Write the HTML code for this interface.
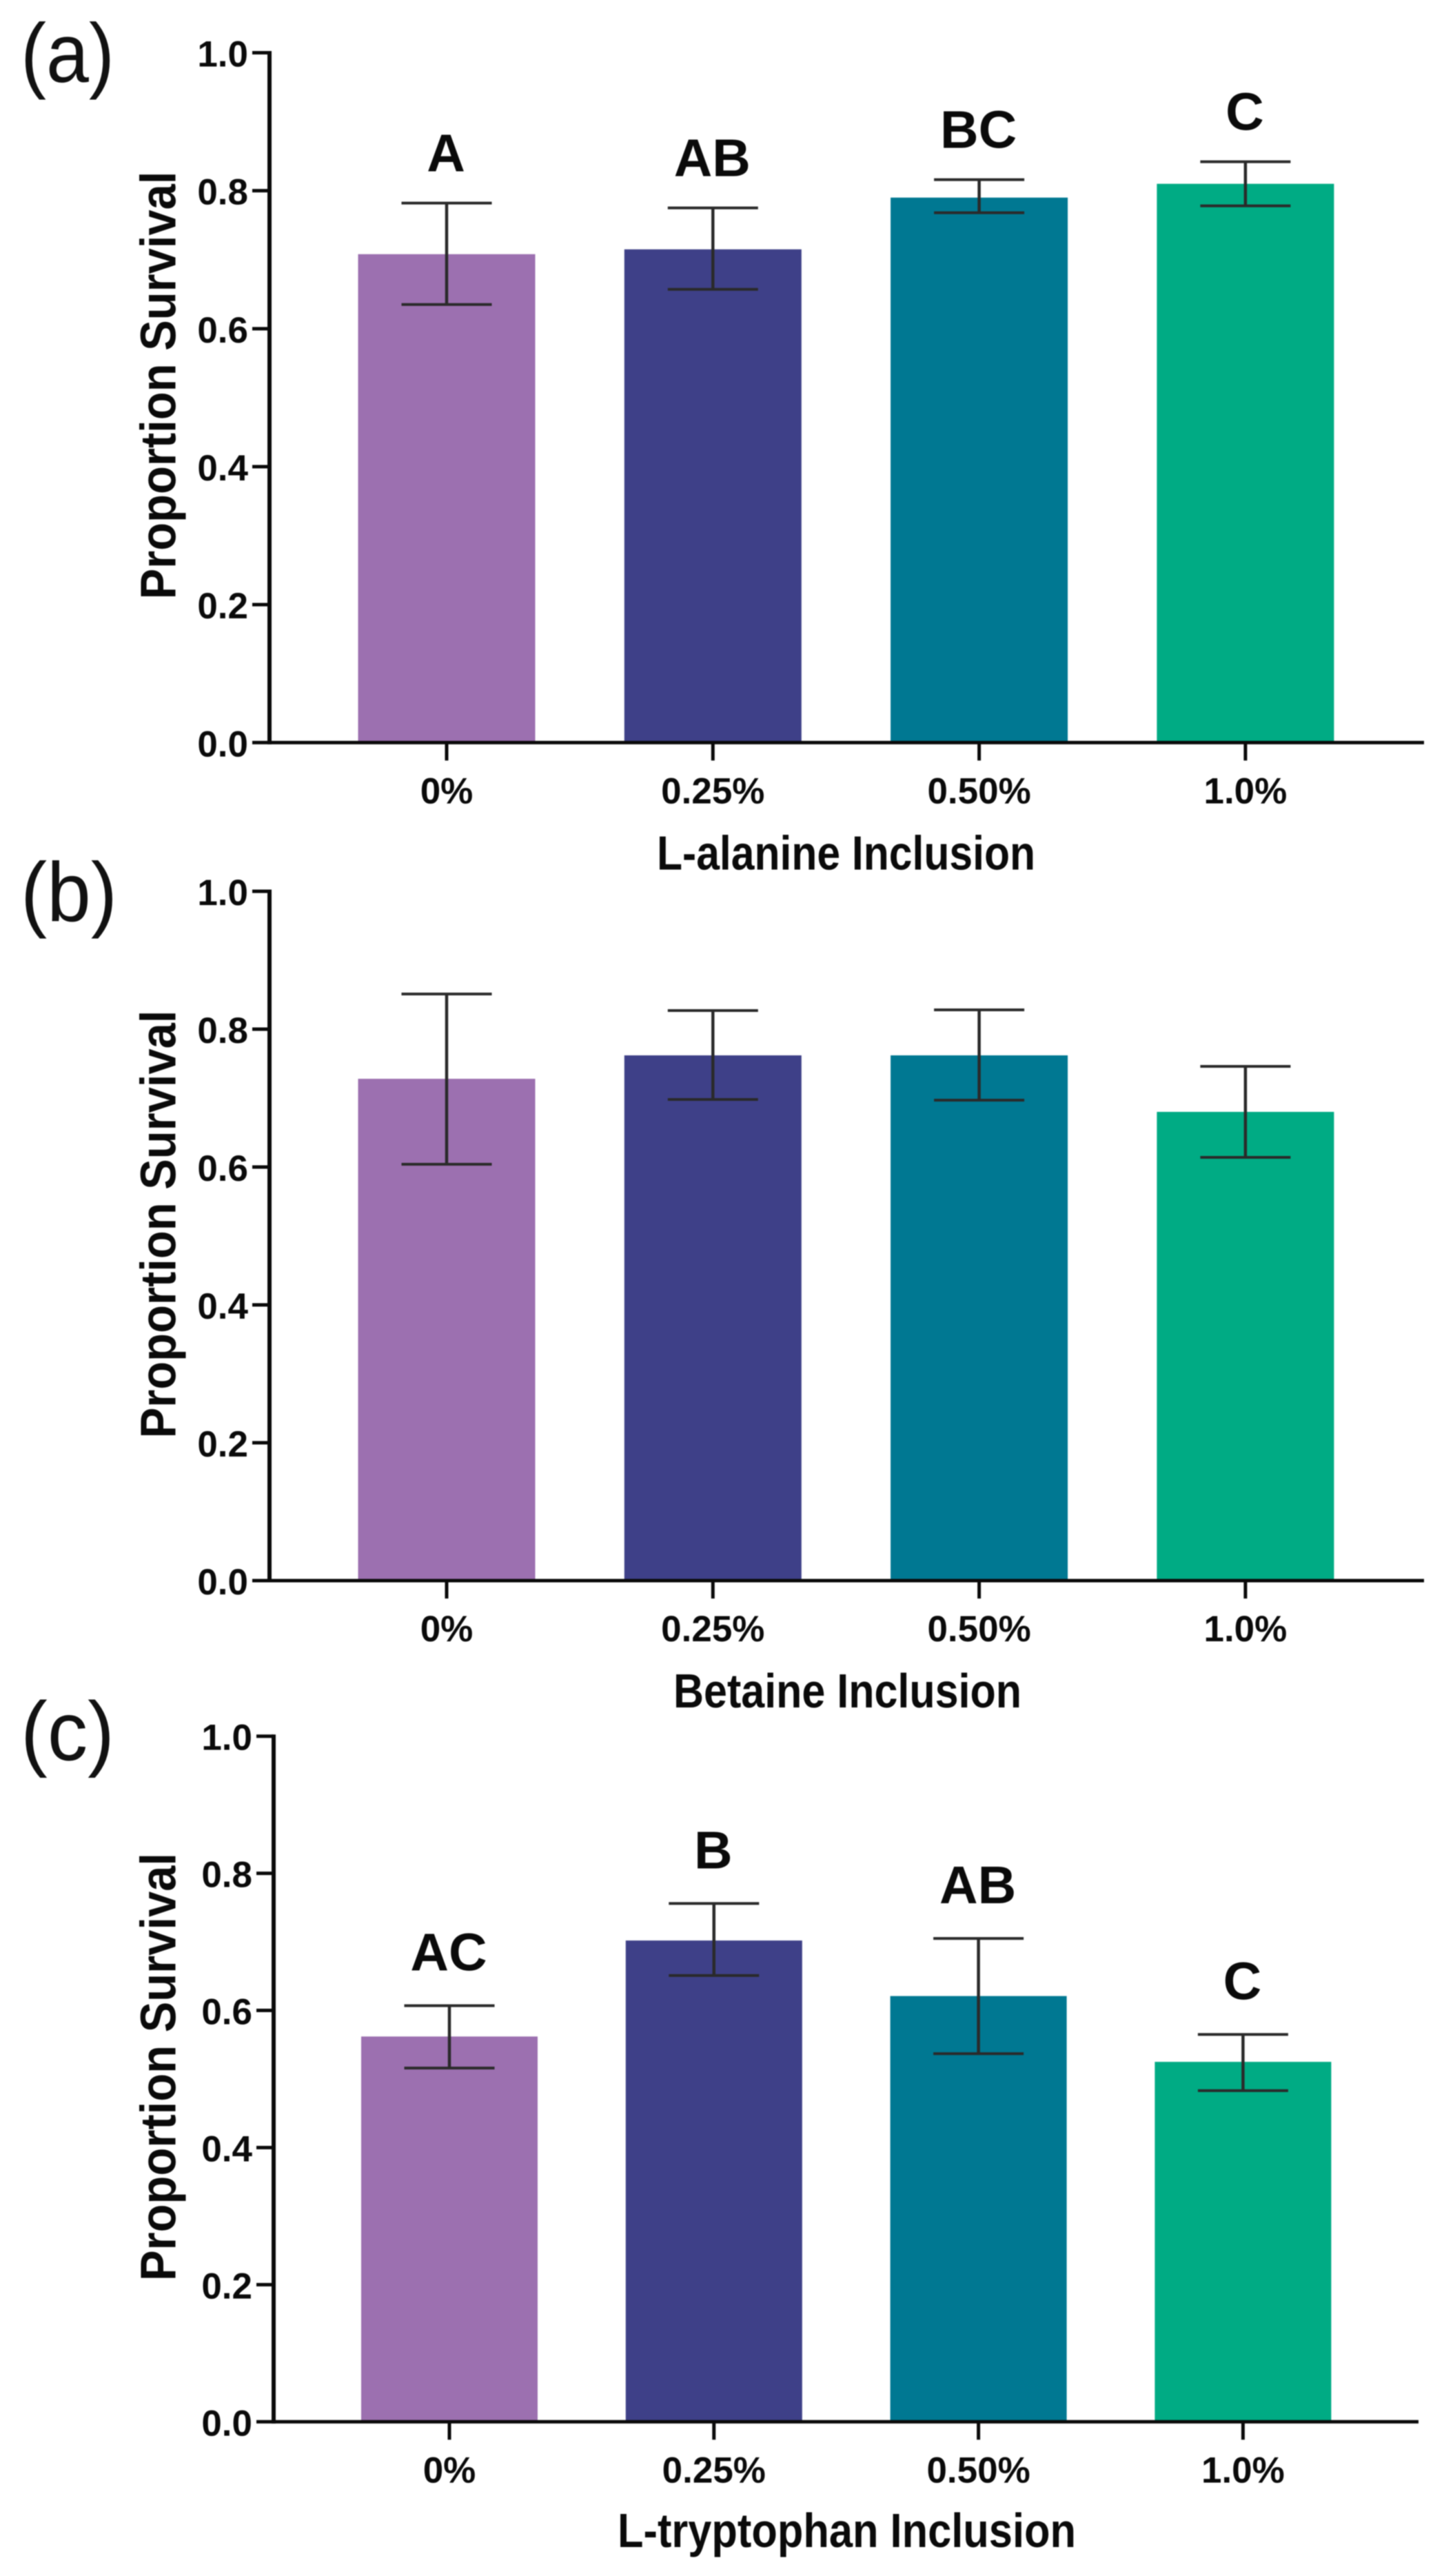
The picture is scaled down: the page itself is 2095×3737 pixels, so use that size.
<!DOCTYPE html>
<html>
<head>
<meta charset="utf-8">
<title>Proportion survival by amino acid inclusion</title>
<style>
html,body{margin:0;padding:0;background:#fff;width:2095px;height:3737px;overflow:hidden}
svg{display:block;filter:blur(0.7px)}
.panel-tag{font-family:"Liberation Sans",sans-serif;font-size:122px;fill:#111}
.axis-title{font-family:"Liberation Sans",sans-serif;font-weight:bold;fill:#0a0a0a}
.tick{font-family:"Liberation Sans",sans-serif;font-weight:bold;font-size:53px;fill:#0a0a0a}
.sig{font-family:"Liberation Sans",sans-serif;font-weight:bold;font-size:77px;fill:#0a0a0a;text-anchor:middle}
</style>
</head>
<body>
<svg id="fig" xmlns="http://www.w3.org/2000/svg" width="2095" height="3737" viewBox="0 0 2095 3737">
  <rect width="2095" height="3737" fill="#ffffff"/>

  <text class="panel-tag" x="30" y="119" textLength="136" lengthAdjust="spacingAndGlyphs">(a)</text>
  <text class="panel-tag" x="30" y="1336" textLength="140" lengthAdjust="spacingAndGlyphs">(b)</text>
  <text class="panel-tag" x="30" y="2553.5" textLength="136" lengthAdjust="spacingAndGlyphs">(c)</text>

  <text class="axis-title" font-size="72" text-anchor="middle" transform="translate(254.5,559) rotate(-90)" textLength="621" lengthAdjust="spacingAndGlyphs">Proportion Survival</text>
  <text class="axis-title" font-size="72" text-anchor="middle" transform="translate(254.5,1776) rotate(-90)" textLength="621" lengthAdjust="spacingAndGlyphs">Proportion Survival</text>
  <text class="axis-title" font-size="72" text-anchor="middle" transform="translate(254.5,2998.5) rotate(-90)" textLength="621" lengthAdjust="spacingAndGlyphs">Proportion Survival</text>

  <text class="axis-title" font-size="70" x="953" y="1261.5" textLength="549" lengthAdjust="spacingAndGlyphs">L-alanine Inclusion</text>
  <text class="axis-title" font-size="70" x="977" y="2477" textLength="505" lengthAdjust="spacingAndGlyphs">Betaine Inclusion</text>
  <text class="axis-title" font-size="70" x="896" y="3695" textLength="665" lengthAdjust="spacingAndGlyphs">L-tryptophan Inclusion</text>

  <g id="plots"></g>
</svg>
<script>
// Chart data
const categories = ['0%', '0.25%', '0.50%', '1.0%'];
const yTickValues = [0, 0.2, 0.4, 0.6, 0.8, 1.0];
const yTickLabels = ['0.0', '0.2', '0.4', '0.6', '0.8', '1.0'];

const alanineMeans = [0.708, 0.715, 0.79, 0.81];
const alanineUpper = [0.782, 0.775, 0.816, 0.842];
const alanineLower = [0.635, 0.657, 0.768, 0.778];
const alanineLetters = ['A', 'AB', 'BC', 'C'];

const betaineMeans = [0.728, 0.762, 0.762, 0.68];
const betaineUpper = [0.851, 0.827, 0.828, 0.746];
const betaineLower = [0.604, 0.698, 0.697, 0.614];
const betaineLetters = ['', '', '', ''];

const tryptophanMeans = [0.562, 0.702, 0.621, 0.525];
const tryptophanUpper = [0.607, 0.756, 0.705, 0.565];
const tryptophanLower = [0.516, 0.651, 0.537, 0.483];
const tryptophanLetters = ['AC', 'B', 'AB', 'C'];

const barColors = ['#9c70b0', '#3e4088', '#007892', '#00ab84'];

const NS = 'http://www.w3.org/2000/svg';
const root = document.getElementById('plots');

function mk(parent, tag, attrs, text) {
  const el = document.createElementNS(NS, tag);
  for (const k in attrs) el.setAttribute(k, attrs[k]);
  if (text !== undefined) el.textContent = text;
  parent.appendChild(el);
  return el;
}

function drawPanel(id, geom, means, upper, lower, letters) {
  const yScale = v => geom.zero - v * (geom.zero - geom.top);
  const xScale = i => geom.x0 + geom.step * i;
  const g = mk(root, 'g', {});
  
  

  means.forEach((m, i) => {
    const cx = xScale(i);
    const bar = mk(g, 'rect', {
      x: cx - geom.barW / 2, y: yScale(m),
      width: geom.barW, height: geom.zero - yScale(m),
      fill: barColors[i]
    });
    
    

    const stem = mk(g, 'line', {
      x1: cx, x2: cx, y1: yScale(upper[i]), y2: yScale(lower[i]),
      stroke: '#2a2a2a', 'stroke-width': 4.5
    });
    
    

    const capTop = mk(g, 'line', {
      x1: cx - geom.cap, x2: cx + geom.cap, y1: yScale(upper[i]), y2: yScale(upper[i]),
      stroke: '#2a2a2a', 'stroke-width': 4
    });
    
    

    const capBottom = mk(g, 'line', {
      x1: cx - geom.cap, x2: cx + geom.cap, y1: yScale(lower[i]), y2: yScale(lower[i]),
      stroke: '#2a2a2a', 'stroke-width': 4
    });
    
    

    if (letters[i]) {
      const sig = mk(g, 'text', {
        class: 'sig', x: cx - 1, y: yScale(upper[i]) - geom.sigGap
      }, letters[i]);
      
      
    }

    const tick = mk(g, 'line', {
      x1: cx, x2: cx, y1: geom.zero, y2: geom.zero + 26,
      stroke: '#0a0a0a', 'stroke-width': 5
    });
    
    

    const lab = mk(g, 'text', {
      class: 'tick', 'text-anchor': 'middle',
      x: cx, y: geom.zero + 88
    }, categories[i]);
    
    
  });

  yTickValues.forEach((v, i) => {
    const y = yScale(v);
    const tick = mk(g, 'line', {
      x1: geom.axisX - 25, x2: geom.axisX, y1: y, y2: y,
      stroke: '#0a0a0a', 'stroke-width': 5
    });
    
    

    const lab = mk(g, 'text', {
      class: 'tick', 'text-anchor': 'end',
      x: geom.axisX - 31, y: y + 20
    }, yTickLabels[i]);
    
    
  });

  const yAxis = mk(g, 'line', {
    x1: geom.axisX, x2: geom.axisX, y1: geom.top - 2.5, y2: geom.zero + 2.5,
    stroke: '#0a0a0a', 'stroke-width': 6
  });
  
  

  const xAxis = mk(g, 'line', {
    x1: geom.axisX, x2: geom.right, y1: geom.zero, y2: geom.zero,
    stroke: '#0a0a0a', 'stroke-width': 5
  });
  
  
}

drawPanel('a', {top: 76.5, zero: 1077.3, axisX: 391, right: 2066, x0: 648, step: 386.3, barW: 257, cap: 65.5, sigGap: 46},
  alanineMeans, alanineUpper, alanineLower, alanineLetters);
drawPanel('b', {top: 1293, zero: 2293, axisX: 391, right: 2066, x0: 648, step: 386.3, barW: 257, cap: 65.5, sigGap: 46},
  betaineMeans, betaineUpper, betaineLower, betaineLetters);
drawPanel('c', {top: 2518.7, zero: 3513.3, axisX: 397, right: 2058, x0: 652, step: 383.8, barW: 256, cap: 65.5, sigGap: 51},
  tryptophanMeans, tryptophanUpper, tryptophanLower, tryptophanLetters);
</script>
</body>
</html>
